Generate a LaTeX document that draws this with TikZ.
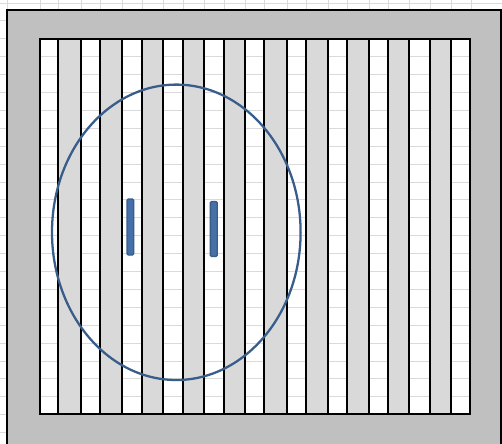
\documentclass[tikz,border=0pt]{standalone}
\definecolor{framegray}{RGB}{192,192,192}
\definecolor{stripegray}{RGB}{217,217,217}
\definecolor{cellgrid}{RGB}{218,218,218}
\definecolor{ringblue}{RGB}{56,93,138}
\definecolor{barblue}{RGB}{70,112,168}
\begin{document}
\begin{tikzpicture}[
    x=0.02cm, y=-0.02cm,
    line width=1.15pt,
    % faint sheet lines behind everything
    sheetline/.style={draw=cellgrid, line width=0.55pt},
    frame/.style={fill=framegray, even odd rule},
    stripe/.style={fill=stripegray},
    ring/.style={draw=ringblue, line width=1.3pt},
    bar/.style={
        fill=barblue,
        draw=ringblue,
        line width=0.8pt,
        rounded corners=0.8pt,
        },
    ]
    \useasboundingbox (0,0) rectangle (502,443);
    \clip (0,0) rectangle (502,443);

    \foreach \x in {7,40,58,81,100,122,142,163,183,204,224,245,264,287,306,328,347,369,388,409,430,451,471}
        \draw[sheetline] (\x,0) -- (\x,443);
    \foreach \k in {0,...,24}
        \draw[sheetline] (0,3+17.9*\k) -- (502,3+17.9*\k);

    \fill[frame] (7,10) rectangle (501,460) (40,39) rectangle (470,414);
    \draw (7,460) -- (7,10) -- (501,10) -- (501,460);

    \foreach \a/\b in {58/81,100/122,142/163,183/204,224/245,264/287,306/328,347/369,388/409,430/451}
        \fill[stripe] (\a,39) rectangle (\b,414);
    \foreach \x in {58,81,100,122,142,163,183,204,224,245,264,287,306,328,347,369,388,409,430,451}
        \draw (\x,39) -- (\x,414);
    \draw (40,39) rectangle (470,414);

    \draw[ring] (176.3,232.3) ellipse [x radius=124.3, y radius=147.7];
    \draw[bar] (127,199) rectangle (133.7,255);
    \draw[bar] (210.3,201.5) rectangle (217.2,256.5);

\end{tikzpicture}
\end{document}
